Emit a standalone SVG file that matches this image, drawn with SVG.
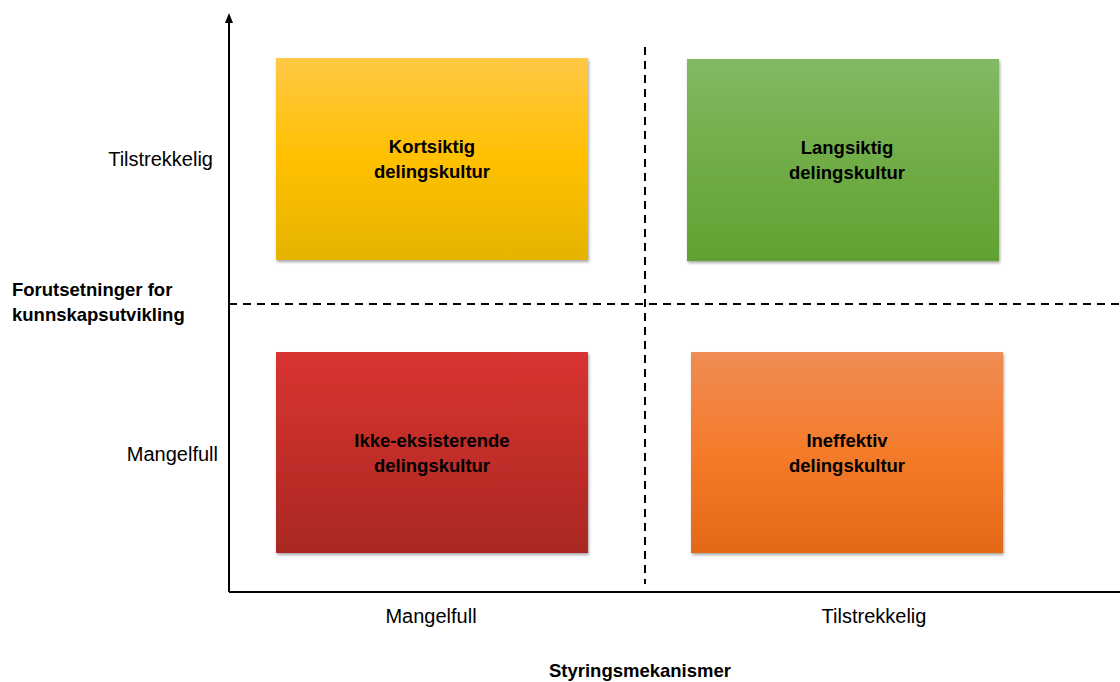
<svg xmlns="http://www.w3.org/2000/svg" width="1120" height="682" viewBox="0 0 1120 682">
<style>
.lbl{font-family:"Liberation Sans",Arial,sans-serif;font-size:20px;fill:#000}
.bold{font-family:"Liberation Sans",Arial,sans-serif;font-size:18.5px;font-weight:bold;fill:#000}
.box{filter:url(#sh)}
.dash{stroke:#000;stroke-width:2;stroke-dasharray:8 6;fill:none}
.axis{stroke:#000;stroke-width:2;fill:none}
</style>
<defs>
<filter id="sh" x="-5%" y="-5%" width="110%" height="115%">
<feDropShadow dx="1" dy="2" stdDeviation="1.5" flood-color="#000" flood-opacity="0.35"/>
</filter>
<linearGradient id="gy" x1="0" y1="0" x2="0" y2="1"><stop offset="0" stop-color="#FFC845"/><stop offset="0.5" stop-color="#FFC000"/><stop offset="1" stop-color="#E5B300"/></linearGradient>
<linearGradient id="gg" x1="0" y1="0" x2="0" y2="1"><stop offset="0" stop-color="#83B964"/><stop offset="0.5" stop-color="#70AD47"/><stop offset="1" stop-color="#61A232"/></linearGradient>
<linearGradient id="gr" x1="0" y1="0" x2="0" y2="1"><stop offset="0" stop-color="#D83431"/><stop offset="0.5" stop-color="#C22E2A"/><stop offset="1" stop-color="#A92822"/></linearGradient>
<linearGradient id="go" x1="0" y1="0" x2="0" y2="1"><stop offset="0" stop-color="#F08C55"/><stop offset="0.5" stop-color="#F47B2A"/><stop offset="1" stop-color="#E36918"/></linearGradient>
<marker id="arr" viewBox="0 0 10 10" refX="5" refY="5" markerWidth="5" markerHeight="5" orient="auto"><path d="M0,1 L10,5 L0,9 Z" fill="#000"/></marker>
</defs>
<g id="connectors">
<line class="axis" x1="229" y1="592" x2="229" y2="18" marker-end="url(#arr)"/>
<line class="axis" x1="229" y1="592" x2="1120" y2="592"/>
<line class="dash" x1="229" y1="304" x2="1120" y2="304"/>
<line class="dash" x1="645" y1="47" x2="645" y2="584"/>
</g>
<g id="node-kortsiktig">
<rect class="box" x="276" y="58" width="312" height="202" fill="url(#gy)"/>
<text class="bold" x="432" y="153" text-anchor="middle">Kortsiktig</text>
<text class="bold" x="432" y="178" text-anchor="middle">delingskultur</text>
</g>
<g id="node-langsiktig">
<rect class="box" x="687" y="59" width="312" height="202" fill="url(#gg)"/>
<text class="bold" x="847" y="154" text-anchor="middle">Langsiktig</text>
<text class="bold" x="847" y="179" text-anchor="middle">delingskultur</text>
</g>
<g id="node-ikke">
<rect class="box" x="276" y="352" width="312" height="201" fill="url(#gr)"/>
<text class="bold" x="432" y="447" text-anchor="middle">Ikke-eksisterende</text>
<text class="bold" x="432" y="472" text-anchor="middle">delingskultur</text>
</g>
<g id="node-ineffektiv">
<rect class="box" x="691" y="352" width="312" height="201" fill="url(#go)"/>
<text class="bold" x="847" y="447" text-anchor="middle">Ineffektiv</text>
<text class="bold" x="847" y="472" text-anchor="middle">delingskultur</text>
</g>
<g id="labels">
<text class="lbl" x="213" y="166" text-anchor="end">Tilstrekkelig</text>
<text class="lbl" x="218" y="461" text-anchor="end">Mangelfull</text>
<text class="bold" x="12" y="296">Forutsetninger for</text>
<text class="bold" x="12" y="321">kunnskapsutvikling</text>
<text class="lbl" x="431" y="623" text-anchor="middle">Mangelfull</text>
<text class="lbl" x="874" y="623" text-anchor="middle">Tilstrekkelig</text>
<text class="bold" x="640" y="677" text-anchor="middle">Styringsmekanismer</text>
</g>
</svg>
